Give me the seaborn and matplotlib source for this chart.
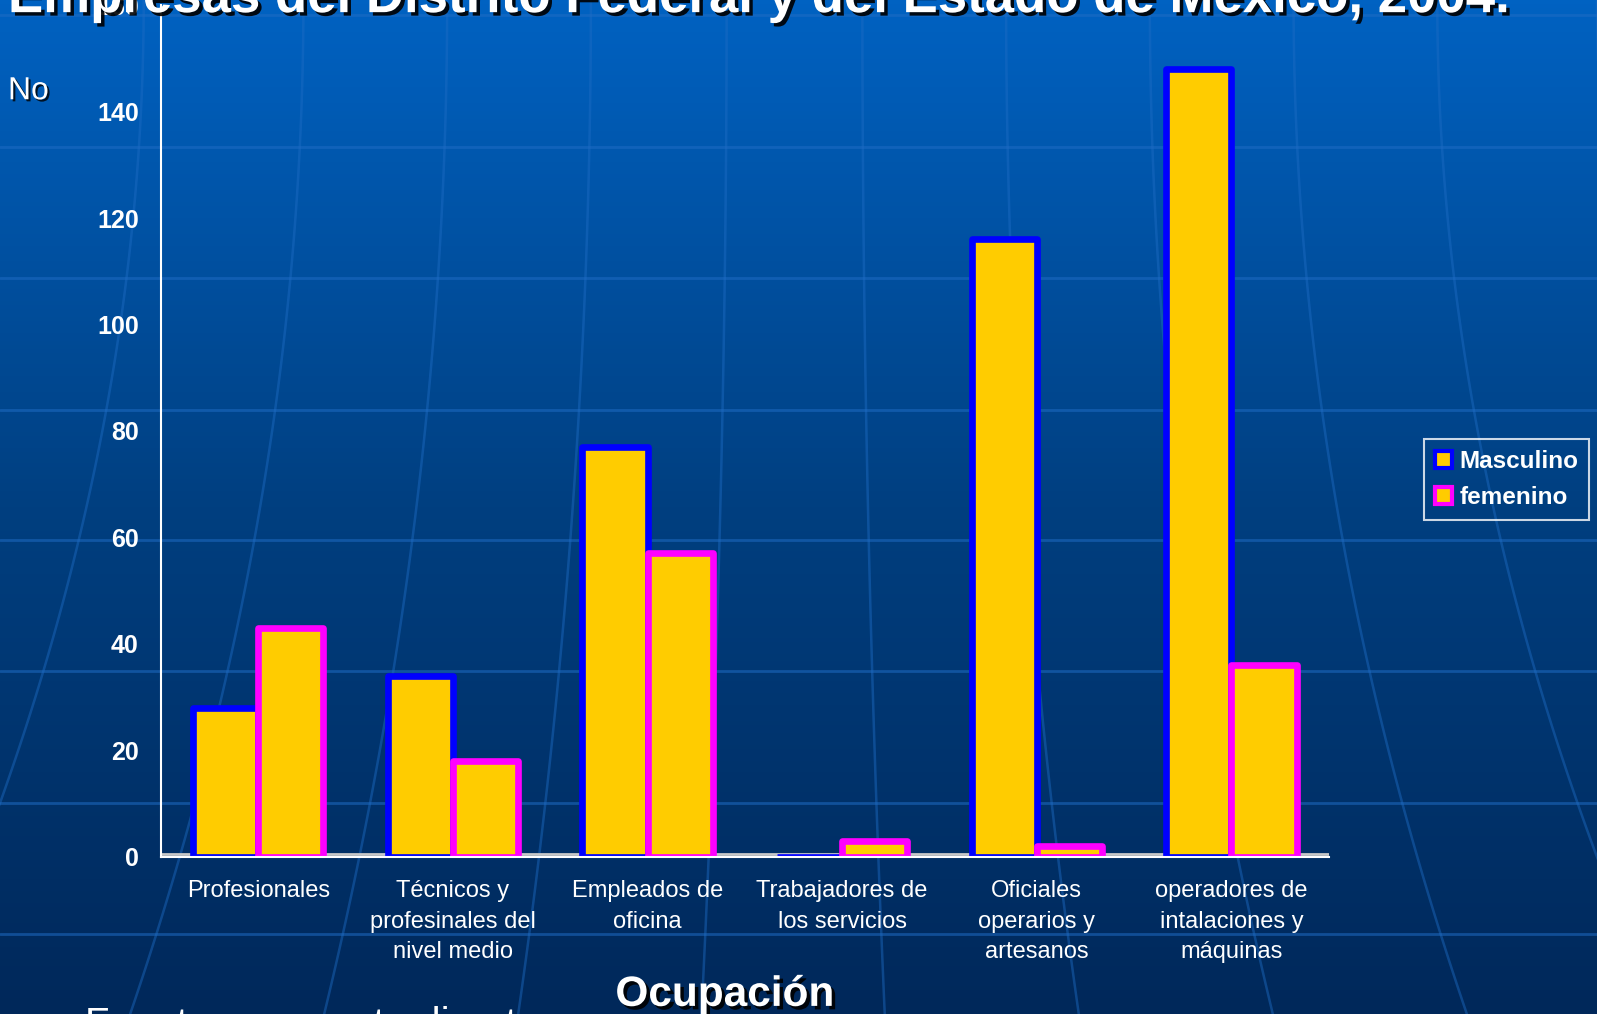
import numpy as np
import pandas as pd
import matplotlib
matplotlib.use("Agg")
import matplotlib.pyplot as plt
import matplotlib.patheffects as pe
from matplotlib.colors import LinearSegmentedColormap
from matplotlib.patches import Patch
import seaborn as sns

# data
ocupaciones = ["Profesionales", "Técnicos y\nprofesinales del\nnivel medio",
               "Empleados de\noficina", "Trabajadores de\nlos servicios",
               "Oficiales\noperarios y\nartesanos", "operadores de\nintalaciones y\nmáquinas"]
masculino = [28, 34, 77, 0, 116, 148]
femenino = [43, 18, 57, 3, 2, 36]
series = ["Masculino", "femenino"]
yticks = [0, 20, 40, 60, 80, 100, 120, 140, 160]

df = pd.DataFrame({
    "Ocupacion": ocupaciones * 2,
    "Sexo": [series[0]] * 6 + [series[1]] * 6,
    "No": masculino + femenino,
})

sns.set_theme(style="white")
plt.rcParams["font.family"] = ["Liberation Sans", "DejaVu Sans"]

fig = plt.figure(figsize=(15.97, 10.14), dpi=100)

# slide background: blue gradient with faint globe lines
bg = fig.add_axes([0, 0, 1, 1], zorder=-5)
cmap = LinearSegmentedColormap.from_list("slide", ["#00285a", "#003f80", "#0062c2"])
grad = np.linspace(0, 1, 256).reshape(-1, 1)
bg.imshow(grad, aspect="auto", cmap=cmap, extent=[0, 1, 0, 1], origin="lower")
line_col = "#1f6cc4"
for yy in [0.985, 0.855, 0.726, 0.596, 0.467, 0.338, 0.208, 0.079]:
    bg.axhline(yy, color=line_col, lw=2, alpha=0.55)
tt = np.linspace(0, 1, 100)
for x0 in [-0.05, 0.09, 0.19, 0.28, 0.37, 0.455, 0.54, 0.63, 0.72, 0.81, 0.90, 1.0]:
    xs = x0 + (x0 - 0.5) * 0.35 * (1 - tt) ** 2
    bg.plot(xs, tt, color=line_col, lw=1.8, alpha=0.45)
bg.set_xlim(0, 1)
bg.set_ylim(0, 1)
bg.axis("off")

ax = fig.add_axes([0.1008, 0.155, 0.7312, 0.84])
ax.patch.set_alpha(0)
sns.barplot(data=df, x="Ocupacion", y="No", hue="Sexo", ax=ax,
            palette=["#ffcc00", "#ffcc00"], width=0.67, saturation=1,
            legend=False)
edges = ["#0000ff", "#ff00ff"]
for cont, ec in zip(ax.containers, edges):
    for bar in cont:
        bar.set_edgecolor(ec)
        bar.set_linewidth(4.8)
        bar.set_joinstyle("round")

ax.set_ylim(0, 160)
ax.set_xlim(-0.5, 5.5)
ax.set_yticks(yticks)
ax.set_yticklabels([str(v) for v in yticks], fontsize=18, fontweight="bold", color="white")
ax.set_xticks(range(6))
ax.set_xticklabels(ocupaciones, fontsize=17, color="white", linespacing=1.5)
ax.set_xticks(np.arange(-0.5, 6, 1), minor=True)
ax.tick_params(axis="x", which="major", length=0, pad=17)
ax.tick_params(axis="x", which="minor", length=12, width=1.5, color="white", direction="out")
ax.tick_params(axis="y", length=12, width=1.5, color="white", direction="out", pad=4)
ax.set_xlabel("")
ax.set_ylabel("")
for side in ["top", "right"]:
    ax.spines[side].set_visible(False)
for side in ["left", "bottom"]:
    ax.spines[side].set_color("white")
    ax.spines[side].set_linewidth(1.5)
ax.axhline(0.6, color="#c8c8c8", lw=2, zorder=0.5)

# legend
handles = [Patch(facecolor="#ffcc00", edgecolor=ec, linewidth=3) for ec in edges]
leg = fig.legend(handles, series, loc="center left", bbox_to_anchor=(0.884, 0.527),
                 frameon=True, fancybox=False, handlelength=0.7, handleheight=0.7,
                 handletextpad=0.3, labelspacing=0.55, borderpad=0.45,
                 prop={"size": 17.5, "weight": "bold"})
leg.get_frame().set_facecolor("none")
leg.get_frame().set_edgecolor("white")
leg.get_frame().set_linewidth(1.5)
for t in leg.get_texts():
    t.set_color("white")

shadow = [pe.SimplePatchShadow(offset=(2.5, -2.5), shadow_rgbFace="black", alpha=0.9), pe.Normal()]
fig.text(0.005, 0.988, "Empresas del Distrito Federal y del Estado de México, 2004.",
         fontsize=38, fontweight="bold", color="white", va="baseline", ha="left",
         path_effects=shadow)
fig.text(0.005, 0.91, "No", fontsize=23, color="white", va="center", ha="left",
         path_effects=[pe.SimplePatchShadow(offset=(1.5, -1.5), shadow_rgbFace="black", alpha=0.8), pe.Normal()])
fig.text(0.454, 0.008, "Ocupación", fontsize=30.5, fontweight="bold", color="white",
         va="baseline", ha="center", path_effects=shadow)
fig.text(0.053, -0.022, "Fuente:  encuesta directa", fontsize=29, color="white",
         va="baseline", ha="left")

fig.savefig("out.png", dpi=100)
